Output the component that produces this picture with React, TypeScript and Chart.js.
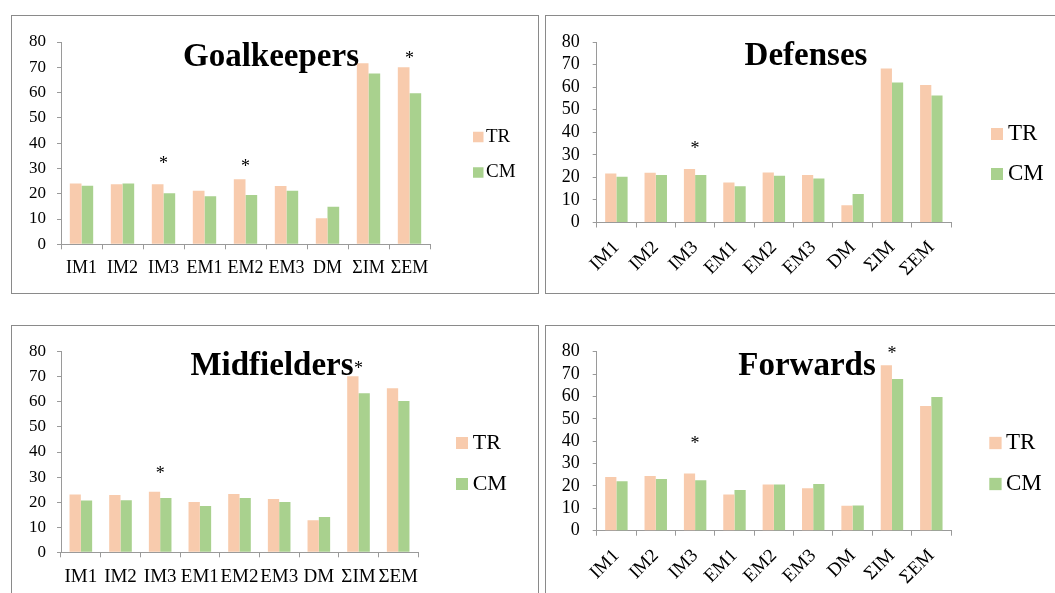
import React, { useEffect, useRef } from "react";
import { Chart, registerables } from "chart.js";
Chart.register(...registerables);

const FONT = "'Liberation Serif', 'Times New Roman', serif";

const categories = ["IM1", "IM2", "IM3", "EM1", "EM2", "EM3", "DM", "ΣIM", "ΣEM"];
const seriesNames = ["TR", "CM"];
const seriesColors = ["#F8CBAD", "#A9D18E"];
const yTicks = [0, 10, 20, 30, 40, 50, 60, 70, 80];

const goalkeepersTR = [24.0, 23.7, 23.7, 21.2, 25.7, 23.1, 10.3, 71.6, 70.0];
const goalkeepersCM = [23.2, 24.0, 20.2, 19.0, 19.5, 21.2, 14.8, 67.5, 59.7];
const goalkeepersStars = [
  { category: "IM3", value: 33.3 },
  { category: "EM2", value: 32.1 },
  { category: "ΣEM", value: 74.9 },
];

const defensesTR = [21.7, 22.0, 23.7, 17.7, 22.2, 21.1, 7.7, 68.2, 60.9];
const defensesCM = [20.3, 21.0, 21.0, 16.1, 20.7, 19.5, 12.6, 62.0, 56.3];
const defensesStars = [{ category: "IM3", value: 34.3 }];

const midfieldersTR = [23.1, 22.9, 24.1, 20.1, 23.3, 21.3, 12.8, 70.2, 65.4];
const midfieldersCM = [20.7, 20.8, 21.7, 18.5, 21.7, 20.1, 14.1, 63.4, 60.3];
const midfieldersStars = [
  { category: "IM3", value: 32.8 },
  { category: "ΣIM", value: 74.7 },
];

const forwardsTR = [24.0, 24.4, 25.6, 16.2, 20.7, 19.0, 11.2, 73.9, 55.7];
const forwardsCM = [22.1, 23.1, 22.5, 18.2, 20.7, 20.9, 11.3, 67.8, 59.7];
const forwardsStars = [
  { category: "IM3", value: 40.5 },
  { category: "ΣIM", value: 80.8 },
];

type Star = { category: string; value: number };
type Layout = {
  left: number; top: number; w: number; h: number;
  cl: number; cr: number; ct: number; cb: number;
  yW: number; xH: number;
  yFont: number; xFont: number; rotate: boolean;
  yPad: number; xPad: number;
  titleX: number; titleY: number;
  legendX: number; legendTextX: number; legendY: number[]; box: number; legendFont: number;
};

type PanelProps = { title: string; tr: number[]; cm: number[]; stars: Star[]; lay: Layout };

function Panel({ title, tr, cm, stars, lay }: PanelProps) {
  const ref = useRef<HTMLCanvasElement | null>(null);
  useEffect(() => {
    if (!ref.current) return;
    const overlay = {
      id: "overlay" + title,
      afterDraw(chart: any) {
        const ctx = chart.ctx;
        const xs = chart.scales.x;
        const ys = chart.scales.y;
        ctx.save();
        ctx.fillStyle = "#000";
        ctx.textAlign = "center";
        ctx.textBaseline = "alphabetic";
        ctx.font = `bold 33px ${FONT}`;
        ctx.fillText(title, lay.titleX, lay.titleY);
        const ss = 18;
        ctx.font = `${ss}px ${FONT}`;
        stars.forEach((s) => {
          const px = xs.getPixelForValue(categories.indexOf(s.category));
          const py = ys.getPixelForValue(s.value);
          ctx.fillText("*", px, py + ss * 0.5);
        });
        chart.data.datasets.forEach((ds: any, i: number) => {
          const cy = lay.legendY[i];
          ctx.fillStyle = ds.backgroundColor;
          ctx.fillRect(lay.legendX, cy - lay.box / 2, lay.box, lay.box);
          ctx.fillStyle = "#000";
          ctx.textAlign = "left";
          ctx.textBaseline = "middle";
          ctx.font = `${lay.legendFont}px ${FONT}`;
          ctx.fillText(ds.label, lay.legendTextX, cy);
        });
        ctx.restore();
      },
    };
    const chart = new Chart(ref.current, {
      type: "bar",
      data: {
        labels: categories,
        datasets: [
          { label: seriesNames[0], data: tr, backgroundColor: seriesColors[0], borderWidth: 0 },
          { label: seriesNames[1], data: cm, backgroundColor: seriesColors[1], borderWidth: 0 },
        ],
      },
      options: {
        responsive: false,
        animation: false,
        devicePixelRatio: 1,
        layout: {
          padding: {
            left: lay.cl - lay.yW,
            right: lay.w - lay.cr,
            top: lay.ct,
            bottom: lay.h - lay.cb - lay.xH,
          },
        },
        datasets: { bar: { categoryPercentage: 0.57, barPercentage: 1 } },
        plugins: { legend: { display: false }, title: { display: false }, tooltip: { enabled: false } },
        scales: {
          x: {
            grid: { drawOnChartArea: false, drawTicks: true, tickLength: 5, color: "#9a9a9a", offset: true },
            border: { display: true, color: "#9a9a9a", width: 1 },
            ticks: {
              color: "#000",
              font: { family: FONT, size: lay.xFont },
              autoSkip: false,
              maxRotation: lay.rotate ? 45 : 0,
              minRotation: lay.rotate ? 45 : 0,
              padding: lay.xPad,
            },
            afterFit: (s: any) => { s.height = lay.xH; },
          },
          y: {
            min: 0,
            max: 80,
            grid: { drawOnChartArea: false, drawTicks: true, tickLength: 4, color: "#9a9a9a" },
            border: { display: true, color: "#9a9a9a", width: 1 },
            ticks: {
              color: "#000",
              font: { family: FONT, size: lay.yFont },
              padding: lay.yPad,
              autoSkip: false,
            },
            afterBuildTicks: (s: any) => { s.ticks = yTicks.map((v) => ({ value: v })); },
            afterFit: (s: any) => { s.width = lay.yW; },
          },
        },
      },
      plugins: [overlay],
    });
    return () => chart.destroy();
  }, []);
  return (
    <>
      <div
        style={{
          position: "absolute", left: lay.left, top: lay.top, width: lay.w + 1, height: lay.h + 1,
          border: "1px solid #8a8a8a", boxSizing: "border-box",
        }}
      />
      <canvas
        ref={ref}
        width={lay.w}
        height={lay.h}
        style={{ position: "absolute", left: lay.left, top: lay.top, width: lay.w, height: lay.h }}
      />
    </>
  );
}

const layGK: Layout = {
  left: 11, top: 15, w: 527, h: 278, cl: 50, cr: 419, ct: 27, cb: 229.3, yW: 40, xH: 40,
  yFont: 17, xFont: 18, rotate: false, yPad: 11, xPad: 8,
  titleX: 260, titleY: 50.5, legendX: 462, legendTextX: 475, legendY: [122, 157.5], box: 10.5, legendFont: 19,
};
const layDEF: Layout = {
  left: 545, top: 15, w: 510, h: 278, cl: 51.7, cr: 406, ct: 27, cb: 207.5, yW: 40, xH: 60,
  yFont: 18, xFont: 19, rotate: true, yPad: 13, xPad: 9,
  titleX: 261, titleY: 50, legendX: 446, legendTextX: 463, legendY: [119, 159], box: 12, legendFont: 23,
};
const layMID: Layout = {
  left: 11, top: 325, w: 527, h: 268, cl: 50, cr: 407, ct: 26.7, cb: 227.3, yW: 40, xH: 30,
  yFont: 17, xFont: 19, rotate: false, yPad: 11, xPad: 8,
  titleX: 261, titleY: 50, legendX: 445, legendTextX: 461.7, legendY: [118, 159], box: 12, legendFont: 22,
};
const layFWD: Layout = {
  left: 545, top: 325, w: 510, h: 268, cl: 51.7, cr: 406, ct: 26.7, cb: 205.7, yW: 40, xH: 55,
  yFont: 18, xFont: 19, rotate: true, yPad: 13, xPad: 9,
  titleX: 262, titleY: 50, legendX: 444.3, legendTextX: 461, legendY: [118, 159], box: 12.3, legendFont: 23,
};

export default function App() {
  return (
    <div
      style={{
        position: "absolute", left: 0, top: 0, width: 1055, height: 593, overflow: "hidden", background: "#fff",
      }}
    >
      <Panel title="Goalkeepers" tr={goalkeepersTR} cm={goalkeepersCM} stars={goalkeepersStars} lay={layGK} />
      <Panel title="Defenses" tr={defensesTR} cm={defensesCM} stars={defensesStars} lay={layDEF} />
      <Panel title="Midfielders" tr={midfieldersTR} cm={midfieldersCM} stars={midfieldersStars} lay={layMID} />
      <Panel title="Forwards" tr={forwardsTR} cm={forwardsCM} stars={forwardsStars} lay={layFWD} />
    </div>
  );
}
